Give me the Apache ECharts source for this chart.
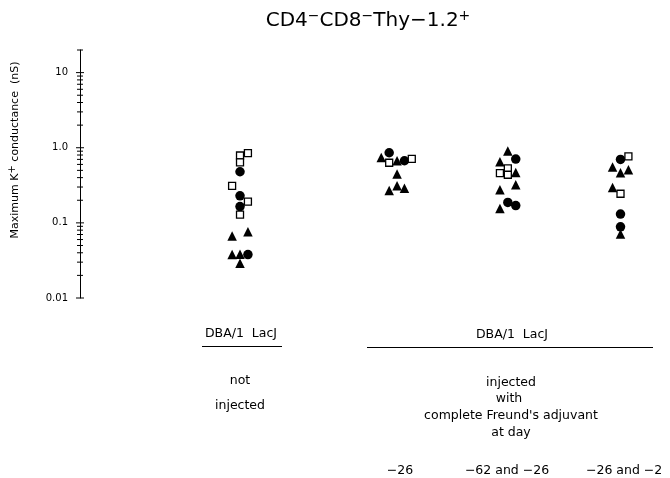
<!DOCTYPE html>
<html>
<head>
<meta charset="utf-8">
<script src="https://cdn.jsdelivr.net/npm/echarts@6/dist/echarts.min.js"></script>
<style>html,body{margin:0;padding:0;background:#fff}#c{width:670px;height:478px}</style>
</head>
<body>
<div id="c"></div>
<script>
// Group centres on the x axis (arbitrary units), one per experimental group
const groupCenters = [0, 1.39, 2.37, 3.367];
const groupLabels = ['not injected', '-26', '-62 and -26', '-26 and -2'];

// [group index, horizontal jitter, max K+ conductance (nS)]
const filledCircles = [
  [0, 0, 0.479], [0, 0, 0.229], [0, 0, 0.165], [0, 0.07, 0.0378],
  [1, -0.07, 0.858], [1, 0.065, 0.671],
  [2, 0.07, 0.707], [2, 0, 0.187], [2, 0.07, 0.170],
  [3, 0, 0.698], [3, 0, 0.131], [3, 0, 0.0885]
];
const openSquares = [
  [0, 0, 0.789], [0, 0.07, 0.849], [0, 0, 0.637], [0, -0.07, 0.311], [0, 0.07, 0.192], [0, 0, 0.129],
  [1, -0.07, 0.631], [1, 0.13, 0.713],
  [2, 0, 0.530], [2, -0.07, 0.460], [2, 0, 0.437],
  [3, 0.07, 0.766], [3, 0, 0.244]
];
const filledTriangles = [
  [0, -0.07, 0.067], [0, 0.07, 0.076], [0, -0.07, 0.0378], [0, 0, 0.0383], [0, 0, 0.029],
  [1, -0.14, 0.742], [1, 0, 0.671], [1, 0, 0.446], [1, 0, 0.311], [1, -0.07, 0.270], [1, 0.065, 0.290],
  [2, 0, 0.904], [2, -0.07, 0.650], [2, 0.07, 0.469], [2, 0.07, 0.321], [2, -0.07, 0.275], [2, -0.07, 0.155],
  [3, -0.07, 0.553], [3, 0, 0.464], [3, 0.07, 0.509], [3, -0.07, 0.296], [3, 0, 0.0713]
];

// Axis ticks (log scale)
const majorTicks = [0.01, 0.1, 1, 10];
const minorTicks = [0.02,0.03,0.04,0.05,0.06,0.07,0.08,0.09,0.2,0.3,0.4,0.5,0.6,0.7,0.8,0.9,2,3,4,5,6,7,8,9];
const capTicks = [20];
const tickLabels = {0.01: '0.01', 0.1: '0.1', 1: '1.0', 10: '10'};

const X_MIN = -1.416, X_MAX = 3.805;
const FONT = 'DejaVu Sans';
const LBL = 12.5;

function toXY(arr) { return arr.map(d => [groupCenters[d[0]] + d[1], d[2]]); }

const chart = echarts.init(document.getElementById('c'), null, {renderer: 'canvas'});

function tickRender(params, api) {
  const p = api.coord([api.value(0), api.value(1)]);
  const len = api.value(2);
  return {
    type: 'line',
    shape: {x1: p[0] - len, y1: p[1], x2: p[0] + len, y2: p[1]},
    style: {stroke: '#000', lineWidth: 1}
  };
}

function txt(x, y, s, size, align) {
  return {type: 'text', x: x, y: y, style: {text: s, fontFamily: FONT, fontSize: size || LBL, fill: '#000', align: align || 'center', verticalAlign: 'middle'}};
}

const option = {
  animation: false,
  backgroundColor: '#fff',
  title: {
    text: 'CD4{sup|−}CD8{sup|−}Thy−1.2{sup|+}',
    left: 363, top: 4, textAlign: 'center',
    textStyle: {
      fontFamily: FONT, fontSize: 20, fontWeight: 'normal', color: '#000', lineHeight: 24,
      rich: {sup: {fontFamily: FONT, fontSize: 14, verticalAlign: 'top', lineHeight: 13, color: '#000'}}
    }
  },
  grid: {left: 80, right: 0, top: 50, bottom: 180, containLabel: false},
  xAxis: {type: 'value', min: X_MIN, max: X_MAX, show: false},
  yAxis: {
    type: 'log', min: 0.01, max: 20, logBase: 10,
    axisLine: {show: true, onZero: false, lineStyle: {color: '#000', width: 1}},
    axisTick: {show: false},
    splitLine: {show: false},
    axisLabel: {
      fontFamily: FONT, fontSize: 10, color: '#000', margin: 12,
      formatter: function (v) {
        for (const k in tickLabels) { if (Math.abs(v - Number(k)) / Number(k) < 1e-6) return tickLabels[k]; }
        return '';
      }
    }
  },
  series: [
    {
      type: 'custom', renderItem: tickRender, clip: false, silent: true,
      encode: {x: 0, y: 1},
      data: minorTicks.map(v => [X_MIN, v, 3]).concat(majorTicks.map(v => [X_MIN, v, 4])).concat(capTicks.map(v => [X_MIN, v, 3]))
    },
    {
      type: 'scatter', data: toXY(filledCircles), symbol: 'circle', symbolSize: 9.5,
      itemStyle: {color: '#000', opacity: 1}
    },
    {
      type: 'scatter', data: toXY(openSquares), symbol: 'rect', symbolSize: 7,
      itemStyle: {color: '#fff', borderColor: '#000', borderWidth: 1.3, opacity: 1}
    },
    {
      type: 'scatter', data: toXY(filledTriangles), symbol: 'triangle', symbolSize: [9.5, 9.5],
      itemStyle: {color: '#000', opacity: 1}
    }
  ],
  graphic: [
    {type: 'text', rotation: Math.PI / 2, x: 15, y: 150,
      style: {text: 'Maximum K{sup|+} conductance  (nS)', fontFamily: FONT, fontSize: 11, lineHeight: 15, fill: '#000',
        align: 'center', verticalAlign: 'middle',
        rich: {sup: {fontFamily: FONT, fontSize: 10, verticalAlign: 'top', lineHeight: 10, fill: '#000'}}}},
    txt(241, 334, 'DBA/1  LacJ'),
    {type: 'line', shape: {x1: 202, y1: 346.5, x2: 282, y2: 346.5}, style: {stroke: '#000', lineWidth: 1}},
    txt(240, 381, 'not'),
    txt(240, 406, 'injected'),
    txt(512, 335, 'DBA/1  LacJ'),
    {type: 'line', shape: {x1: 367, y1: 347.5, x2: 653, y2: 347.5}, style: {stroke: '#000', lineWidth: 1}},
    txt(511, 383, 'injected'),
    txt(509, 399, 'with'),
    txt(511, 416, "complete Freund's adjuvant"),
    txt(511, 433, 'at day'),
    txt(400, 471, '−26'),
    txt(507, 471, '−62 and −26'),
    txt(586, 471, '−26 and −2', LBL, 'left')
  ]
};
chart.setOption(option);
</script>
</body>
</html>
